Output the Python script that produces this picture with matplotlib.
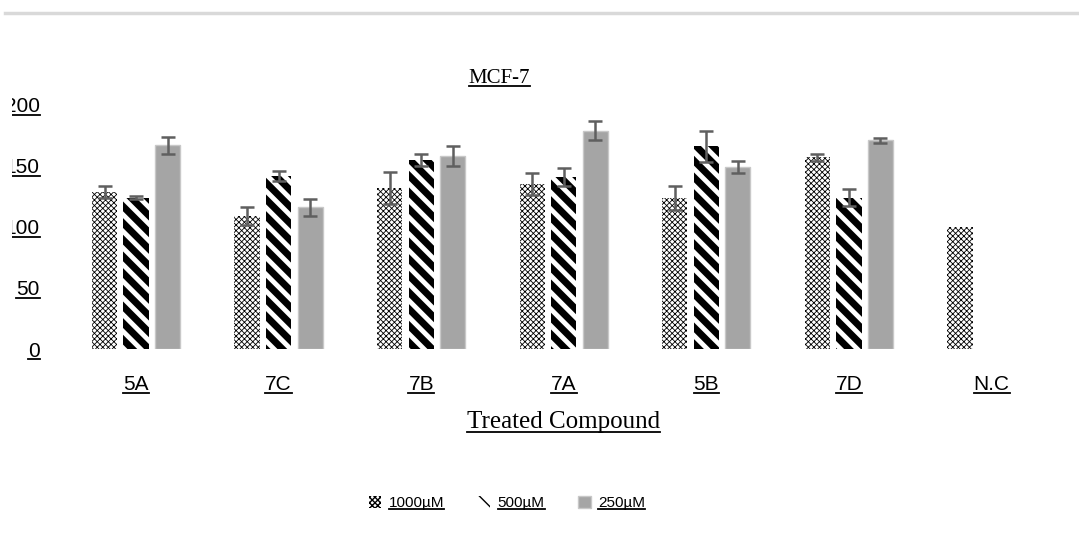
import numpy as np
import matplotlib
matplotlib.use("Agg")
import matplotlib.pyplot as plt
from matplotlib.lines import Line2D
from matplotlib.patches import Patch, Rectangle

# values
compounds = ["5A", "7C", "7B", "7A", "5B", "7D", "N.C"]
series = ["1000µM", "500µM", "250µM"]
v1000 = [129, 109, 132, 135, 124, 157, 100]
e1000 = [5, 7, 13, 9, 10, 3, 0]
v500 = [124, 142, 155, 141, 166, 124, np.nan]
e500 = [1, 4, 5, 7, 13, 7, 0]
v250 = [167, 116, 158, 179, 149, 171, np.nan]
e250 = [7, 7, 8, 8, 5, 2, 0]
yticks = [0, 50, 100, 150, 200]

fig = plt.figure(figsize=(10.79, 5.4), dpi=100)
ax = fig.add_axes([0.060, 0.3537, 0.925, 0.4519])

x = np.arange(len(compounds))
w = 0.177
step = 0.221
errkw = dict(ecolor="#5f5f5f", elinewidth=1.8, capsize=5, capthick=1.8)

def hbar(xs, vals, errs, hatch, hlw, face, edge, lw):
    with plt.rc_context({"hatch.linewidth": hlw}):
        bars = ax.bar(xs, vals, w, color=face, edgecolor=edge, linewidth=lw,
                      hatch=hatch, zorder=2)
        for b in bars:
            if hasattr(b, "set_hatch_linewidth"):
                b.set_hatch_linewidth(hlw)
    ok = [i for i, e in enumerate(errs) if e > 0 and not np.isnan(vals[i])]
    ax.errorbar(xs[ok], np.array(vals)[ok], yerr=np.array(errs)[ok], fmt="none",
                zorder=3, **errkw)
    return bars

b1 = hbar(x - step, v1000, e1000, "xxxxxx", 0.6, "white", "black", 0)
b2 = hbar(x, v500, e500, "\\\\", 5.0, "white", "black", 0)
b3 = hbar(x + step, v250, e250, None, 1.0, "#a5a5a5", "#c8c8c8", 1)

ax.set_xlim(-0.5, len(compounds) - 0.5)
ax.set_ylim(0, 200)
for s in ax.spines.values():
    s.set_visible(False)
ax.set_xticks(x)
ax.set_xticklabels(compounds, fontsize=15, family="Liberation Sans")
ax.set_yticks(yticks)
ax.set_yticklabels([str(t) for t in yticks], fontsize=15, family="Liberation Sans")
ax.tick_params(axis="both", length=0)
ax.tick_params(axis="x", pad=19)
ax.tick_params(axis="y", pad=18)

title = fig.text(0.463, 0.855, "MCF-7", ha="center", va="center",
                 fontsize=15, family="Liberation Serif")
xlab = fig.text(0.522, 0.218, "Treated Compound", ha="center", va="center",
                fontsize=18, family="Liberation Serif")

# thin grey rule at the top
fig.add_artist(Line2D([0.005, 1.0], [0.976, 0.976], color="#d9d9d9", lw=2.5))

with plt.rc_context({"hatch.linewidth": 1.5}):
    handles = [Patch(facecolor="white", edgecolor="black", linewidth=0, hatch="xxxxxx"),
               Patch(facecolor="white", edgecolor="black", linewidth=0, hatch="\\\\"),
               Patch(facecolor="#a5a5a5", edgecolor="#c8c8c8")]
leg = fig.legend(handles, series, loc="center", bbox_to_anchor=(0.47, 0.068),
                 ncol=3, frameon=False, handlelength=0.8, handleheight=0.8,
                 columnspacing=2.2, handletextpad=0.5,
                 prop={"family": "Liberation Sans", "size": 11})

# underline every text item, like the original
fig.canvas.draw()
rend = fig.canvas.get_renderer()
texts = list(ax.get_xticklabels()) + list(ax.get_yticklabels()) + [title, xlab] + list(leg.get_texts())
W, H = fig.bbox.width, fig.bbox.height
for t in texts:
    bb = t.get_window_extent(rend)
    yline = (bb.y0 + 1.5) / H
    fig.add_artist(Line2D([bb.x0 / W, bb.x1 / W], [yline, yline], color="black", lw=1.3))

# the left edge of the upper y labels is hidden in the original
fig.add_artist(Rectangle((0, 0.55), 0.011, 0.30, transform=fig.transFigure,
                         facecolor="white", edgecolor="none", zorder=10))

fig.savefig("out.png", dpi=100)
